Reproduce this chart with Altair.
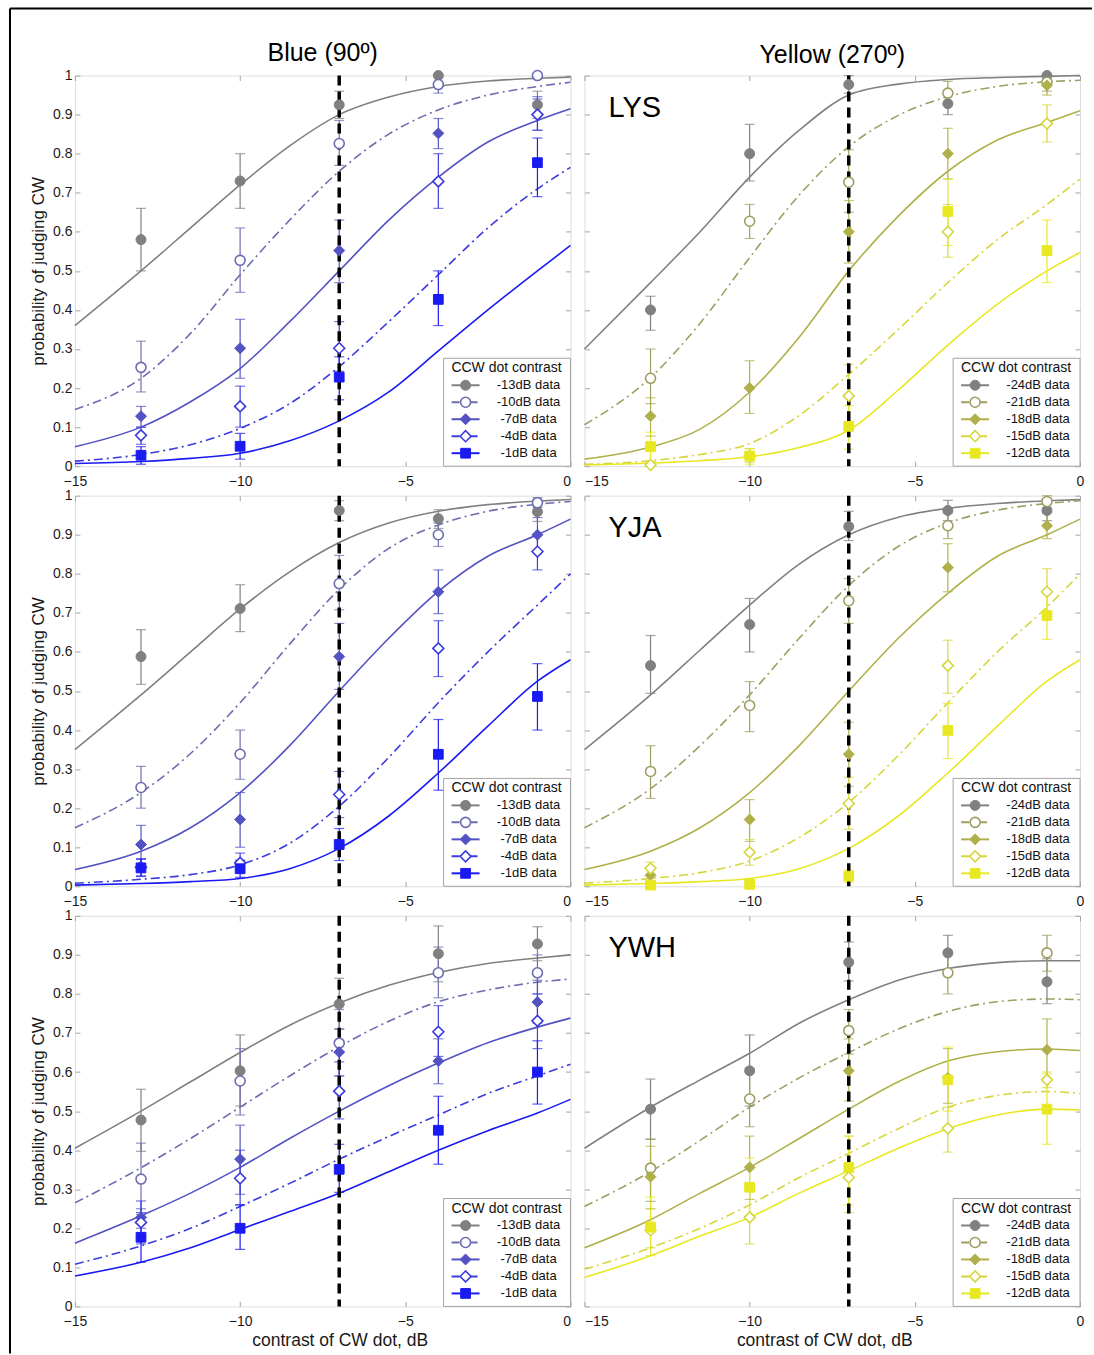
import altair as alt
import pandas as pd

# ---------------- data ----------------
X_DATA = [-13, -10, -7, -4, -1]
X_FIT = [-15, -13, -11.5, -10, -8.5, -7, -5.5, -4, -2.5, -1, 0]
CRITERION_DB = [-7]

BLUE_LABELS = ["-13dB data", "-10dB data", "-7dB data", "-4dB data", "-1dB data"]
YELLOW_LABELS = ["-24dB data", "-21dB data", "-18dB data", "-15dB data", "-12dB data"]
BLUE_COLORS = ["#808080", "#6c6cb0", "#5252c4", "#3b3bde", "#1a1af2"]
YELLOW_COLORS = ["#808080", "#9e9e62", "#b0b04a", "#d6d63c", "#e8e822"]
SHAPES = ["circle", "circle", "diamond", "diamond", "square"]
OPEN = [False, True, False, True, False]
DASHED = [False, True, False, True, False]

# --- Blue, LYS ---
blue_lys_pts = [[0.58, 0.73, 0.925, 1.0, 0.925],
                [0.253, 0.527, 0.826, 0.977, 1.0],
                [0.128, 0.302, 0.552, 0.852, 0.90],
                [0.079, 0.153, 0.302, 0.729, 0.90],
                [0.028, 0.051, 0.228, 0.427, 0.777]]
blue_lys_lo = [[0.50, 0.66, 0.89, 1.0, 0.89],
               [0.19, 0.445, 0.77, 0.955, 1.0],
               [0.10, 0.225, 0.47, 0.813, 0.86],
               [0.056, 0.10, 0.243, 0.66, 0.86],
               [0.005, 0.018, 0.17, 0.36, 0.69]]
blue_lys_hi = [[0.66, 0.80, 0.96, 1.0, 0.96],
               [0.32, 0.61, 0.885, 1.0, 1.0],
               [0.153, 0.376, 0.63, 0.89, 0.946],
               [0.10, 0.205, 0.37, 0.80, 0.94],
               [0.05, 0.084, 0.28, 0.50, 0.84]]
blue_lys_fit = [[0.36, 0.50, 0.61, 0.72, 0.82, 0.90, 0.945, 0.972, 0.986, 0.993, 0.996],
                [0.145, 0.225, 0.34, 0.49, 0.63, 0.755, 0.85, 0.912, 0.95, 0.972, 0.983],
                [0.05, 0.10, 0.165, 0.25, 0.37, 0.50, 0.63, 0.74, 0.83, 0.885, 0.915],
                [0.013, 0.03, 0.055, 0.097, 0.16, 0.255, 0.37, 0.49, 0.61, 0.71, 0.765],
                [0.007, 0.012, 0.02, 0.033, 0.065, 0.116, 0.19, 0.295, 0.40, 0.50, 0.565]]

# --- Yellow, LYS ---
yel_lys_pts = [[0.40, 0.80, 0.977, 0.928, 1.0],
               [0.225, 0.627, 0.727, 0.955, 0.983],
               [0.128, 0.20, 0.60, 0.80, 0.975],
               [0.003, 0.026, 0.18, 0.60, 0.877],
               [0.05, 0.026, 0.102, 0.652, 0.552]]
yel_lys_lo = [[0.348, 0.73, 0.955, 0.90, 1.0],
              [0.16, 0.583, 0.65, 0.925, 0.96],
              [0.077, 0.135, 0.52, 0.735, 0.95],
              [0.0, 0.01, 0.105, 0.535, 0.83],
              [0.013, 0.005, 0.044, 0.565, 0.47]]
yel_lys_hi = [[0.435, 0.875, 1.0, 0.96, 1.0],
              [0.30, 0.67, 0.81, 0.985, 1.0],
              [0.175, 0.27, 0.68, 0.865, 1.0],
              [0.01, 0.045, 0.26, 0.67, 0.925],
              [0.087, 0.045, 0.155, 0.735, 0.63]]
yel_lys_fit = [[0.30, 0.47, 0.60, 0.74, 0.86, 0.95, 0.978, 0.99, 0.995, 0.998, 1.0],
               [0.106, 0.227, 0.366, 0.534, 0.694, 0.818, 0.898, 0.946, 0.972, 0.984, 0.988],
               [0.018, 0.049, 0.095, 0.19, 0.33, 0.50, 0.64, 0.755, 0.835, 0.88, 0.91],
               [0.005, 0.014, 0.03, 0.058, 0.13, 0.235, 0.35, 0.47, 0.58, 0.67, 0.735],
               [0.003, 0.008, 0.014, 0.024, 0.048, 0.092, 0.195, 0.31, 0.415, 0.50, 0.547]]

# --- Blue, YJA ---
blue_yja_pts = [[0.588, 0.711, 0.962, 0.941, 0.959],
                [0.253, 0.338, 0.775, 0.90, 0.982],
                [0.107, 0.171, 0.588, 0.754, 0.90],
                [0.049, 0.06, 0.235, 0.609, 0.857],
                [0.047, 0.045, 0.107, 0.338, 0.486]]
blue_yja_lo = [[0.517, 0.652, 0.936, 0.916, 0.934],
               [0.20, 0.274, 0.708, 0.87, 0.97],
               [0.059, 0.10, 0.504, 0.698, 0.857],
               [0.027, 0.035, 0.176, 0.537, 0.81],
               [0.025, 0.023, 0.066, 0.246, 0.40]]
blue_yja_hi = [[0.657, 0.772, 0.987, 0.964, 0.984],
               [0.307, 0.40, 0.847, 0.93, 0.995],
               [0.156, 0.24, 0.673, 0.81, 0.944],
               [0.071, 0.085, 0.294, 0.68, 0.90],
               [0.069, 0.067, 0.148, 0.427, 0.57]]
blue_yja_fit = [[0.35, 0.49, 0.60, 0.71, 0.805, 0.88, 0.93, 0.96, 0.977, 0.986, 0.99],
                [0.15, 0.24, 0.34, 0.47, 0.62, 0.76, 0.865, 0.925, 0.96, 0.978, 0.985],
                [0.043, 0.09, 0.15, 0.24, 0.36, 0.50, 0.635, 0.755, 0.845, 0.90, 0.94],
                [0.008, 0.018, 0.03, 0.055, 0.11, 0.205, 0.33, 0.47, 0.60, 0.72, 0.80],
                [0.003, 0.007, 0.012, 0.02, 0.045, 0.097, 0.18, 0.29, 0.41, 0.525, 0.58]]

# --- Yellow, YJA ---
yel_yja_pts = [[0.565, 0.67, 0.921, 0.962, 0.962],
               [0.294, 0.463, 0.731, 0.923, 0.985],
               [0.028, 0.171, 0.338, 0.816, 0.923],
               [0.046, 0.087, 0.212, 0.565, 0.754],
               [0.003, 0.005, 0.026, 0.399, 0.693]]
yel_yja_lo = [[0.494, 0.60, 0.885, 0.936, 0.936],
              [0.225, 0.396, 0.673, 0.89, 0.97],
              [0.01, 0.115, 0.256, 0.754, 0.89],
              [0.03, 0.054, 0.146, 0.494, 0.696],
              [0.0, 0.0, 0.01, 0.327, 0.632]]
yel_yja_hi = [[0.642, 0.737, 0.96, 0.988, 0.988],
              [0.36, 0.524, 0.788, 0.955, 1.0],
              [0.05, 0.222, 0.42, 0.877, 0.955],
              [0.062, 0.12, 0.279, 0.63, 0.813],
              [0.01, 0.012, 0.042, 0.468, 0.75]]
yel_yja_fit = [[0.35, 0.49, 0.605, 0.72, 0.825, 0.90, 0.945, 0.968, 0.98, 0.987, 0.99],
               [0.15, 0.25, 0.36, 0.49, 0.635, 0.77, 0.87, 0.93, 0.963, 0.98, 0.987],
               [0.043, 0.09, 0.15, 0.24, 0.36, 0.50, 0.635, 0.75, 0.845, 0.90, 0.94],
               [0.008, 0.02, 0.035, 0.065, 0.125, 0.215, 0.335, 0.47, 0.60, 0.715, 0.80],
               [0.003, 0.007, 0.012, 0.02, 0.045, 0.097, 0.18, 0.29, 0.41, 0.525, 0.58]]

# --- Blue, YWH ---
blue_ywh_pts = [[0.477, 0.603, 0.774, 0.903, 0.928],
                [0.326, 0.577, 0.674, 0.854, 0.854],
                [0.228, 0.377, 0.651, 0.628, 0.779],
                [0.215, 0.328, 0.551, 0.703, 0.731],
                [0.177, 0.20, 0.351, 0.451, 0.60]]
blue_ywh_lo = [[0.397, 0.513, 0.71, 0.831, 0.885],
               [0.235, 0.49, 0.59, 0.79, 0.80],
               [0.20, 0.287, 0.59, 0.57, 0.725],
               [0.16, 0.26, 0.48, 0.64, 0.66],
               [0.113, 0.146, 0.292, 0.364, 0.518]]
blue_ywh_hi = [[0.556, 0.695, 0.84, 0.974, 0.972],
               [0.418, 0.66, 0.76, 0.92, 0.90],
               [0.25, 0.464, 0.71, 0.685, 0.835],
               [0.27, 0.40, 0.626, 0.77, 0.80],
               [0.24, 0.26, 0.415, 0.538, 0.68]]
blue_ywh_fit = [[0.405, 0.50, 0.575, 0.65, 0.72, 0.777, 0.822, 0.855, 0.878, 0.892, 0.90],
                [0.265, 0.355, 0.43, 0.51, 0.59, 0.665, 0.73, 0.78, 0.81, 0.83, 0.838],
                [0.162, 0.232, 0.29, 0.356, 0.43, 0.50, 0.565, 0.623, 0.675, 0.715, 0.738],
                [0.108, 0.155, 0.20, 0.256, 0.315, 0.377, 0.435, 0.49, 0.545, 0.59, 0.62],
                [0.078, 0.113, 0.15, 0.197, 0.243, 0.29, 0.345, 0.40, 0.45, 0.495, 0.53]]

# --- Yellow, YWH ---
yel_ywh_pts = [[0.505, 0.603, 0.881, 0.905, 0.831],
               [0.354, 0.531, 0.706, 0.854, 0.905],
               [0.332, 0.356, 0.603, 0.585, 0.657],
               [0.195, 0.228, 0.33, 0.456, 0.58],
               [0.203, 0.305, 0.356, 0.58, 0.505]]
yel_ywh_lo = [[0.428, 0.513, 0.833, 0.858, 0.775],
              [0.269, 0.46, 0.646, 0.80, 0.858],
              [0.25, 0.274, 0.526, 0.52, 0.58],
              [0.15, 0.16, 0.24, 0.395, 0.56],
              [0.13, 0.23, 0.26, 0.50, 0.415]]
yel_ywh_hi = [[0.582, 0.695, 0.933, 0.95, 0.89],
              [0.428, 0.61, 0.76, 0.905, 0.95],
              [0.41, 0.436, 0.685, 0.66, 0.736],
              [0.25, 0.30, 0.436, 0.51, 0.60],
              [0.28, 0.38, 0.436, 0.664, 0.595]]
yel_ywh_fit = [[0.405, 0.51, 0.58, 0.648, 0.725, 0.785, 0.835, 0.865, 0.88, 0.885, 0.885],
               [0.256, 0.345, 0.425, 0.51, 0.585, 0.65, 0.71, 0.755, 0.78, 0.787, 0.785],
               [0.15, 0.222, 0.29, 0.356, 0.43, 0.505, 0.575, 0.628, 0.652, 0.659, 0.655],
               [0.095, 0.15, 0.20, 0.26, 0.33, 0.392, 0.455, 0.51, 0.54, 0.55, 0.545],
               [0.074, 0.13, 0.18, 0.228, 0.29, 0.347, 0.405, 0.455, 0.49, 0.505, 0.503]]

# ---------------- layout / style ----------------
FONT = "Liberation Sans"
FRAME = "#a4a4a4"
W, H = 496, 391
ROW_GAP = 29.5
DASH = [9, 4, 2, 4]
SIZES = {"circle": 100, "diamond": 120, "square": 95}

xscale = alt.Scale(domain=[-15, 0], nice=False, zero=False)
yscale = alt.Scale(domain=[0, 1], nice=False, zero=False)


def dx(px):
    return -15 + 15.0 * px / W


def dy(py):
    return 1.0 - py / H


def make_panel(pts, lo, hi, fit, labels, colors, col, row, subject=None, coltitle=None):
    bottom = row == 2
    xa = dict(values=[-15, -10, -5, 0], format="d", labelFontSize=14, labelColor="#1a1a1a",
              labelFont=FONT, labelPadding=8, ticks=False, domain=False, grid=True,
              gridColor=FRAME, gridDash=[5, H - 10, 5, 3000], gridWidth=1)
    if col == 0:
        xa["labelAlign"] = {"condition": {"test": "datum.value == 0", "value": "right"}, "value": "center"}
    else:
        xa["labelAlign"] = {"condition": {"test": "datum.value == -15", "value": "left"}, "value": "center"}
    if bottom:
        xa.update(title="contrast of CW dot, dB", titleFontSize=17.5, titleFontWeight="normal",
                  titleFont=FONT, titleColor="#1a1a1a", titlePadding=3,
                  titleX=265 if col == 0 else 240)
    else:
        xa["title"] = None
    xaxis = alt.Axis(**xa)

    ya = dict(values=[i / 10 for i in range(11)], grid=True, gridColor=FRAME,
              gridDash=[5, W - 10, 5, 3000], gridWidth=1, ticks=False, domain=False)
    if col == 0:
        ya.update(format=".1~f", labelFontSize=14, labelColor="#1a1a1a", labelFont=FONT,
                  labelPadding=3, title="probability of judging CW", titleFontSize=17,
                  titleFontWeight="normal", titleFont=FONT, titleColor="#1a1a1a", titlePadding=5)
    else:
        ya.update(labels=False, title=None)
    yaxis = alt.Axis(**ya)

    def X(f):
        return alt.X(f, type="quantitative", scale=xscale, axis=xaxis)

    def Y(f):
        return alt.Y(f, type="quantitative", scale=yscale, axis=yaxis)

    fit_rows, pt_rows, leg_rows = [], [], []
    for i in range(5):
        for xv, pv in zip(X_FIT, fit[i]):
            fit_rows.append({"x": xv, "p": pv, "s": i, "c": colors[i], "dashed": DASHED[i]})
        for j, xv in enumerate(X_DATA):
            pt_rows.append({"x": xv, "p": pts[i][j], "lo": lo[i][j], "hi": hi[i][j], "s": i,
                            "c": colors[i], "f": "white" if OPEN[i] else colors[i],
                            "shape": SHAPES[i], "size": SIZES[SHAPES[i]],
                            "sw": 1.6 if OPEN[i] else 1.0})
        leg_rows.append({"label": labels[i], "s": i, "c": colors[i],
                         "f": "white" if OPEN[i] else colors[i], "shape": SHAPES[i],
                         "size": SIZES[SHAPES[i]], "sw": 1.6 if OPEN[i] else 1.0,
                         "dashed": DASHED[i],
                         "ly": dy(310 + 17 * i), "lx1": dx(377), "lx2": dx(405),
                         "lxm": dx(391), "lxt": dx(454)})
    fit_df = pd.DataFrame(fit_rows)
    pt_df = pd.DataFrame(pt_rows)
    err_df = pt_df[pt_df["hi"] > pt_df["lo"] + 0.004]
    leg_df = pd.DataFrame(leg_rows)

    layers = []
    layers.append(alt.Chart(fit_df[~fit_df["dashed"]]).mark_line(
        interpolate="monotone", strokeWidth=1.6).encode(
        x=X("x"), y=Y("p"), color=alt.Color("c:N", scale=None), detail="s:N"))
    layers.append(alt.Chart(fit_df[fit_df["dashed"]]).mark_line(
        interpolate="monotone", strokeWidth=1.6, strokeDash=DASH).encode(
        x=X("x"), y=Y("p"), color=alt.Color("c:N", scale=None), detail="s:N"))
    layers.append(alt.Chart(err_df).mark_rule(strokeWidth=1.2).encode(
        x=X("x"), y=Y("lo"), y2="hi", color=alt.Color("c:N", scale=None)))
    for fld in ("lo", "hi"):
        layers.append(alt.Chart(err_df).mark_tick(orient="horizontal", size=10, thickness=1.2).encode(
            x=X("x"), y=Y(fld), color=alt.Color("c:N", scale=None)))
    layers.append(alt.Chart(pd.DataFrame({"x": CRITERION_DB})).mark_rule(
        color="black", strokeWidth=3.5, strokeDash=[10, 6]).encode(x=X("x")))
    layers.append(alt.Chart(pt_df).mark_point(filled=True, opacity=1).encode(
        x=X("x"), y=Y("p"),
        shape=alt.Shape("shape:N", scale=None), fill=alt.Fill("f:N", scale=None),
        stroke=alt.Stroke("c:N", scale=None), size=alt.Size("size:Q", scale=None),
        strokeWidth=alt.StrokeWidth("sw:Q", scale=None)))

    box_df = pd.DataFrame({"bx1": [dx(369)], "bx2": [dx(W)], "by1": [dy(283)], "by2": [dy(H)],
                           "tx": [dx(432)], "ty": [dy(293)], "t": ["CCW dot contrast"]})
    layers.append(alt.Chart(box_df).mark_rect(fill="white", stroke=FRAME, strokeWidth=1).encode(
        x=X("bx1"), x2="bx2", y=Y("by1"), y2="by2"))
    layers.append(alt.Chart(box_df).mark_text(fontSize=14, font=FONT, color="#111",
                                              align="center", baseline="middle").encode(
        x=X("tx"), y=Y("ty"), text="t:N"))
    layers.append(alt.Chart(leg_df[~leg_df["dashed"]]).mark_rule(strokeWidth=2).encode(
        x=X("lx1"), x2="lx2", y=Y("ly"), color=alt.Color("c:N", scale=None)))
    layers.append(alt.Chart(leg_df[leg_df["dashed"]]).mark_rule(strokeWidth=2, strokeDash=[8, 4, 2, 4]).encode(
        x=X("lx1"), x2="lx2", y=Y("ly"), color=alt.Color("c:N", scale=None)))
    layers.append(alt.Chart(leg_df).mark_point(filled=True, opacity=1).encode(
        x=X("lxm"), y=Y("ly"),
        shape=alt.Shape("shape:N", scale=None), fill=alt.Fill("f:N", scale=None),
        stroke=alt.Stroke("c:N", scale=None), size=alt.Size("size:Q", scale=None),
        strokeWidth=alt.StrokeWidth("sw:Q", scale=None)))
    layers.append(alt.Chart(leg_df).mark_text(fontSize=13, font=FONT, color="#111",
                                              align="center", baseline="middle").encode(
        x=X("lxt"), y=Y("ly"), text="label:N"))

    if subject:
        layers.append(alt.Chart(pd.DataFrame({"t": [subject]})).mark_text(
            fontSize=29, font=FONT, color="black", align="left", baseline="middle").encode(
            x=alt.value(24), y=alt.value(32), text="t:N"))

    if row == 1 and col == 0:
        # outer frame of the whole figure (drawn from the middle-left panel,
        # so that it does not move the column titles)
        top_rel = 7 - (74 + H + ROW_GAP)
        bot_rel = 1353 - (74 + H + ROW_GAP)
        one = pd.DataFrame({"k": [0]})
        layers.append(alt.Chart(one).mark_rule(color="black", strokeWidth=2).encode(
            x=alt.value(-65), y=alt.value(top_rel), y2=alt.value(bot_rel)))
        layers.append(alt.Chart(one).mark_rule(color="black", strokeWidth=2).encode(
            x=alt.value(-65), x2=alt.value(1018), y=alt.value(top_rel)))

    props = dict(width=W, height=H)
    if coltitle:
        props["title"] = alt.TitleParams(coltitle, fontSize=25, fontWeight="normal", font=FONT,
                                         color="black", anchor="middle", offset=1)
    return alt.layer(*layers).properties(**props)


panels = [
    make_panel(blue_lys_pts, blue_lys_lo, blue_lys_hi, blue_lys_fit, BLUE_LABELS, BLUE_COLORS,
               0, 0, coltitle="Blue (90º)"),
    make_panel(yel_lys_pts, yel_lys_lo, yel_lys_hi, yel_lys_fit, YELLOW_LABELS, YELLOW_COLORS,
               1, 0, subject="LYS", coltitle="Yellow (270º)"),
    make_panel(blue_yja_pts, blue_yja_lo, blue_yja_hi, blue_yja_fit, BLUE_LABELS, BLUE_COLORS, 0, 1),
    make_panel(yel_yja_pts, yel_yja_lo, yel_yja_hi, yel_yja_fit, YELLOW_LABELS, YELLOW_COLORS,
               1, 1, subject="YJA"),
    make_panel(blue_ywh_pts, blue_ywh_lo, blue_ywh_hi, blue_ywh_fit, BLUE_LABELS, BLUE_COLORS, 0, 2),
    make_panel(yel_ywh_pts, yel_ywh_lo, yel_ywh_hi, yel_ywh_fit, YELLOW_LABELS, YELLOW_COLORS,
               1, 2, subject="YWH"),
]

chart = alt.concat(*panels, columns=2, spacing={"row": ROW_GAP, "column": 14}, bounds="flush").properties(
    padding={"left": 8, "top": 6, "right": 0, "bottom": 0},
    background="white",
).configure_view(stroke=FRAME, strokeWidth=1).configure(font=FONT)

chart.save("out.html", embed_options={"renderer": "svg", "actions": False})
